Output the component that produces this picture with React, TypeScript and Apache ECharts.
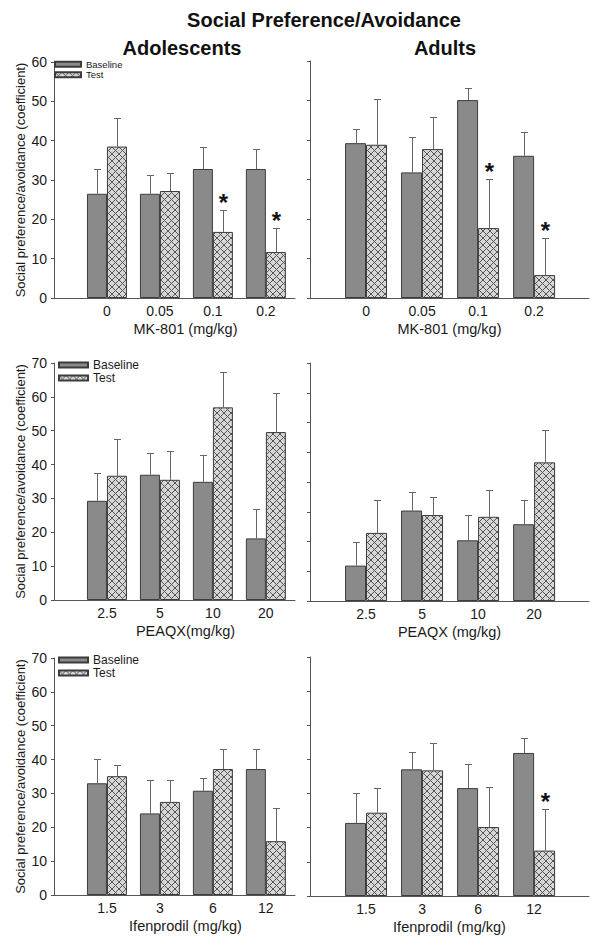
import React, { useEffect, useRef } from 'react';
import * as echarts from 'echarts';

// ---------- data ----------
const mkLabels = ['0', '0.05', '0.1', '0.2'];
const peaqxLabels = ['2.5', '5', '10', '20'];
const ifenLabels = ['1.5', '3', '6', '12'];

// Adolescents – MK-801
const adoMkBaseline = [26.5, 26.5, 32.8, 32.8];
const adoMkBaselineSem = [6.3, 4.8, 5.7, 5.2];
const adoMkTest = [38.5, 27.2, 16.8, 11.7];
const adoMkTestSem = [7.3, 4.6, 5.5, 6.0];
const adoMkTestStars = [0, 0, 1, 1];

// Adults – MK-801
const aduMkBaseline = [39.2, 31.8, 50.1, 36.0];
const aduMkBaselineSem = [3.5, 8.9, 3.1, 5.9];
const aduMkTest = [38.8, 37.7, 17.7, 5.8];
const aduMkTestSem = [11.7, 8.2, 12.5, 9.4];
const aduMkTestStars = [0, 0, 1, 1];

// Adolescents – PEAQX
const adoPqBaseline = [29.3, 37.0, 34.9, 18.2];
const adoPqBaselineSem = [8.2, 6.4, 7.8, 8.6];
const adoPqTest = [36.7, 35.5, 56.9, 49.6];
const adoPqTestSem = [10.8, 8.4, 10.4, 11.5];

// Adults – PEAQX
const aduPqBaseline = [11.9, 30.4, 20.4, 25.8];
const aduPqBaselineSem = [7.8, 6.4, 8.5, 8.1];
const aduPqTest = [22.9, 28.9, 28.3, 46.6];
const aduPqTestSem = [11.2, 5.9, 8.9, 10.9];

// Adolescents – Ifenprodil
const adoIfBaseline = [33.0, 24.1, 30.8, 37.2];
const adoIfBaselineSem = [7.3, 10.0, 3.9, 5.9];
const adoIfTest = [35.1, 27.5, 37.2, 15.9];
const adoIfTestSem = [3.2, 6.4, 5.9, 9.7];

// Adults – Ifenprodil
const aduIfBaseline = [21.4, 37.1, 31.6, 41.9];
const aduIfBaselineSem = [8.9, 5.0, 7.0, 4.4];
const aduIfTest = [24.4, 36.8, 20.2, 13.3];
const aduIfTestSem = [7.1, 8.0, 11.7, 12.3];
const aduIfTestStars = [0, 0, 0, 1];

const noStars = [0, 0, 0, 0];

const yAxisTitle = 'Social preference/avoidance (coefficient)';

// ---------- styling ----------
const FONT = 'Liberation Sans, Arial, Helvetica, sans-serif';
const AXIS_COLOR = '#555';
const TEXT_COLOR = '#1a1a1a';
const BASE_FILL = '#8a8a8a';
const BAR_BORDER = '#3c3c3c';
const ERR_COLOR = '#666';

const hatchSvg =
  '<svg xmlns="http://www.w3.org/2000/svg" width="7" height="7">' +
  '<rect width="7" height="7" fill="#d6d6d6"/>' +
  '<path d="M0 0L7 7M7 0L0 7" stroke="#575757" stroke-width="1"/>' +
  '</svg>';
const hatchUrl = 'data:image/svg+xml;charset=utf-8,' + encodeURIComponent(hatchSvg);
const hatchPattern: any = { image: hatchUrl, repeat: 'repeat', imageWidth: 7, imageHeight: 7 };

type Panel = {
  labels: string[];
  base: number[];
  baseSem: number[];
  test: number[];
  testSem: number[];
  testStars: number[];
  yMax: number;
  xMax: number;
  left: boolean;
  grid: { left: number; top: number; width: number; height: number };
  barWidth: number;
  xName: string;
  nameShift: number;
};

const panels: Panel[] = [
  { labels: mkLabels, base: adoMkBaseline, baseSem: adoMkBaselineSem, test: adoMkTest, testSem: adoMkTestSem, testStars: adoMkTestStars,
    yMax: 60, xMax: 4.55, left: true, grid: { left: 54, top: 62, width: 241, height: 236 }, barWidth: 20, xName: 'MK-801 (mg/kg)', nameShift: 11 },
  { labels: mkLabels, base: aduMkBaseline, baseSem: aduMkBaselineSem, test: aduMkTest, testSem: aduMkTestSem, testStars: aduMkTestStars,
    yMax: 60, xMax: 4.98, left: false, grid: { left: 310, top: 61, width: 279, height: 237 }, barWidth: 21, xName: 'MK-801 (mg/kg)', nameShift: 0 },
  { labels: peaqxLabels, base: adoPqBaseline, baseSem: adoPqBaselineSem, test: adoPqTest, testSem: adoPqTestSem, testStars: noStars,
    yMax: 70, xMax: 4.55, left: true, grid: { left: 54, top: 363, width: 241, height: 237 }, barWidth: 20, xName: 'PEAQX(mg/kg)', nameShift: 11 },
  { labels: peaqxLabels, base: aduPqBaseline, baseSem: aduPqBaselineSem, test: aduPqTest, testSem: aduPqTestSem, testStars: noStars,
    yMax: 80, xMax: 4.98, left: false, grid: { left: 310, top: 363, width: 279, height: 238 }, barWidth: 21, xName: 'PEAQX (mg/kg)', nameShift: 0 },
  { labels: ifenLabels, base: adoIfBaseline, baseSem: adoIfBaselineSem, test: adoIfTest, testSem: adoIfTestSem, testStars: noStars,
    yMax: 70, xMax: 4.55, left: true, grid: { left: 54, top: 658, width: 241, height: 237 }, barWidth: 20, xName: 'Ifenprodil (mg/kg)', nameShift: 11 },
  { labels: ifenLabels, base: aduIfBaseline, baseSem: aduIfBaselineSem, test: aduIfTest, testSem: aduIfTestSem, testStars: aduIfTestStars,
    yMax: 70, xMax: 4.98, left: false, grid: { left: 310, top: 657, width: 279, height: 239 }, barWidth: 21, xName: 'Ifenprodil (mg/kg)', nameShift: 0 },
];

function errorSeries(idx: number, values: number[], sems: number[], stars: number[], offset: number) {
  return {
    type: 'custom',
    xAxisIndex: idx,
    yAxisIndex: idx,
    z: 5,
    silent: true,
    data: values.map((v, i) => [i + 1, v, sems[i], stars[i]]),
    renderItem: (_params: any, api: any) => {
      const x = api.value(0);
      const v = api.value(1);
      const e = api.value(2);
      const star = api.value(3);
      const base = api.coord([x, v]);
      const top = api.coord([x, v + e]);
      const cx = Math.round(base[0] + offset) + 0.5;
      const ty = Math.round(top[1]) + 0.5;
      const children: any[] = [
        { type: 'line', shape: { x1: cx, y1: base[1], x2: cx, y2: ty }, style: { stroke: ERR_COLOR, lineWidth: 1 } },
        { type: 'line', shape: { x1: cx - 3.5, y1: ty, x2: cx + 3.5, y2: ty }, style: { stroke: ERR_COLOR, lineWidth: 1 } },
      ];
      if (star) {
        children.push({
          type: 'text',
          x: cx,
          y: ty - 8,
          style: { text: '*', fontSize: 24, fontWeight: 'bold', fontFamily: FONT, fill: '#111', align: 'center', verticalAlign: 'middle' },
        });
      }
      return { type: 'group', children };
    },
  };
}

function buildOption() {
  const grid: any[] = [];
  const xAxis: any[] = [];
  const yAxis: any[] = [];
  const series: any[] = [];

  panels.forEach((p, idx) => {
    grid.push({ ...p.grid, containLabel: false });
    xAxis.push({
      gridIndex: idx,
      type: 'value',
      min: 0,
      max: p.xMax,
      interval: 1,
      splitLine: { show: false },
      axisTick: { show: false },
      axisLine: { show: true, onZero: false, lineStyle: { color: AXIS_COLOR, width: 1 } },
      axisLabel: {
        fontSize: 14,
        color: TEXT_COLOR,
        margin: 6,
        formatter: (val: number) => {
          const k = Math.round(val);
          if (Math.abs(val - k) > 1e-6 || k < 1 || k > p.labels.length) return '';
          return p.labels[k - 1];
        },
      },
      name: p.xName,
      nameLocation: 'middle',
      nameGap: 23,
      nameTextStyle: { fontSize: 14.5, color: TEXT_COLOR, padding: [0, 0, 0, p.nameShift * 2] },
    });
    yAxis.push({
      gridIndex: idx,
      type: 'value',
      min: 0,
      max: p.yMax,
      interval: 10,
      splitLine: { show: false },
      axisLine: { show: true, lineStyle: { color: AXIS_COLOR, width: 1 } },
      axisTick: { show: true, length: 3, lineStyle: { color: AXIS_COLOR } },
      axisLabel: { show: p.left, fontSize: 14, color: TEXT_COLOR, margin: 7 },
      name: p.left ? yAxisTitle : '',
      nameLocation: 'middle',
      nameGap: 27,
      nameTextStyle: { fontSize: 13, color: TEXT_COLOR },
    });
    series.push({
      name: 'Baseline',
      type: 'bar',
      xAxisIndex: idx,
      yAxisIndex: idx,
      barWidth: p.barWidth,
      barGap: '0%',
      itemStyle: { color: BASE_FILL, borderColor: BAR_BORDER, borderWidth: 1 },
      data: p.base.map((v, i) => [i + 1, v]),
    });
    series.push({
      name: 'Test',
      type: 'bar',
      xAxisIndex: idx,
      yAxisIndex: idx,
      barWidth: p.barWidth,
      barGap: '0%',
      itemStyle: { color: hatchPattern, borderColor: BAR_BORDER, borderWidth: 1 },
      data: p.test.map((v, i) => [i + 1, v]),
    });
    series.push(errorSeries(idx, p.base, p.baseSem, noStars, -p.barWidth / 2));
    series.push(errorSeries(idx, p.test, p.testSem, p.testStars, p.barWidth / 2));
  });

  const legendCommon = {
    orient: 'vertical',
    icon: 'rect',
    selectedMode: false,
    padding: 0,
    itemGap: 0,
    data: ['Baseline', 'Test'],
  };

  return {
    animation: false,
    backgroundColor: '#ffffff',
    textStyle: { fontFamily: FONT },
    title: [
      { text: 'Social Preference/Avoidance', left: 324, top: 10, textAlign: 'center', padding: 0,
        textStyle: { fontSize: 20, fontWeight: 'bold', color: '#111', fontFamily: FONT } },
      { text: 'Adolescents', left: 182, top: 38, textAlign: 'center', padding: 0,
        textStyle: { fontSize: 20, fontWeight: 'bold', color: '#111', fontFamily: FONT } },
      { text: 'Adults', left: 445, top: 38, textAlign: 'center', padding: 0,
        textStyle: { fontSize: 20, fontWeight: 'bold', color: '#111', fontFamily: FONT } },
    ],
    legend: [
      { ...legendCommon, left: 54, top: 59, itemWidth: 26, itemHeight: 5,
        textStyle: { fontSize: 9.5, lineHeight: 10.5, color: TEXT_COLOR, fontFamily: FONT } },
      { ...legendCommon, left: 58, top: 358.5, itemWidth: 29, itemHeight: 5,
        textStyle: { fontSize: 12, lineHeight: 13, color: TEXT_COLOR, fontFamily: FONT } },
      { ...legendCommon, left: 58, top: 653.5, itemWidth: 29, itemHeight: 5,
        textStyle: { fontSize: 12, lineHeight: 13, color: TEXT_COLOR, fontFamily: FONT } },
    ],
    grid,
    xAxis,
    yAxis,
    series,
  };
}

export default function App() {
  const ref = useRef<HTMLDivElement>(null);
  useEffect(() => {
    if (!ref.current) return;
    const chart = echarts.init(ref.current, undefined, { renderer: 'svg' });
    chart.setOption(buildOption() as any);
    return () => chart.dispose();
  }, []);
  return (
    <div
      ref={ref}
      style={{ position: 'fixed', left: 0, top: 0, width: 602, height: 947, background: '#fff' }}
    />
  );
}
